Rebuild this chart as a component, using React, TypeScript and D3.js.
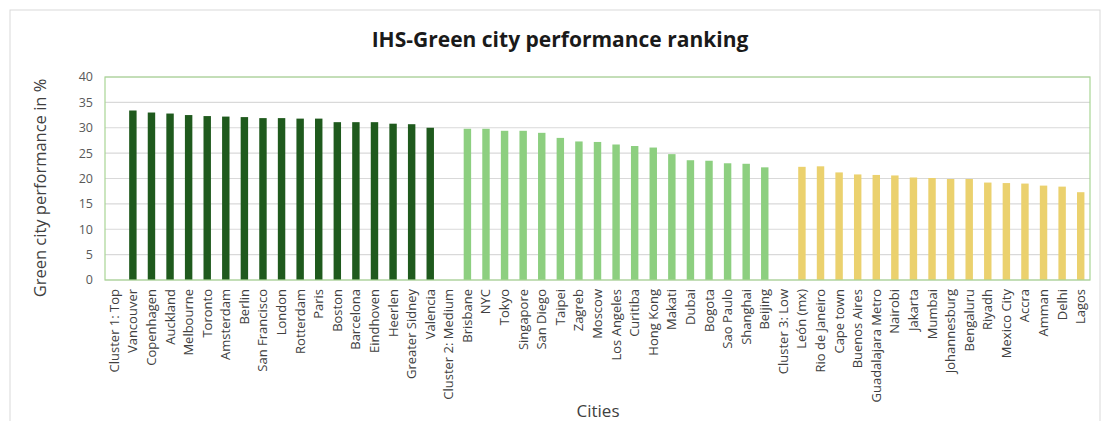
import React from "react";
import * as d3 from "d3";

const title = "IHS-Green city performance ranking";
const yAxisTitle = "Green city performance in %";
const xAxisTitle = "Cities";

const clusterLabels = ["Cluster 1: Top", "Cluster 2: Medium", "Cluster 3: Low"];
const clusterColors = ["#1f5a1d", "#8dcf80", "#ebd16e"];

const cluster1Cities = ["Vancouver", "Copenhagen", "Auckland", "Melbourne", "Toronto", "Amsterdam", "Berlin", "San Francisco", "London", "Rotterdam", "Paris", "Boston", "Barcelona", "Eindhoven", "Heerlen", "Greater Sidney", "Valencia"];
const cluster1Values = [33.4, 33.0, 32.8, 32.5, 32.3, 32.2, 32.1, 31.9, 31.9, 31.8, 31.8, 31.1, 31.1, 31.1, 30.8, 30.7, 30.0];

const cluster2Cities = ["Brisbane", "NYC", "Tokyo", "Singapore", "San Diego", "Taipei", "Zagreb", "Moscow", "Los Angeles", "Curitiba", "Hong Kong", "Makati", "Dubai", "Bogota", "Sao Paulo", "Shanghai", "Beijing"];
const cluster2Values = [29.8, 29.8, 29.4, 29.4, 29.0, 28.0, 27.3, 27.2, 26.7, 26.4, 26.1, 24.8, 23.6, 23.5, 23.0, 22.9, 22.2];

const cluster3Cities = ["León (mx)", "Rio de Janeiro", "Cape town", "Buenos Aires", "Guadalajara Metro", "Nairobi", "Jakarta", "Mumbai", "Johannesburg", "Bengaluru", "Riyadh", "Mexico City", "Accra", "Amman", "Delhi", "Lagos"];
const cluster3Values = [22.3, 22.4, 21.2, 20.8, 20.7, 20.6, 20.2, 20.1, 19.9, 19.9, 19.2, 19.1, 19.0, 18.6, 18.4, 17.3];

const yTicks = [0, 5, 10, 15, 20, 25, 30, 35, 40];

type Row = { label: string; value: number | null; cluster: number };

const clusters = [
  { cities: cluster1Cities, values: cluster1Values },
  { cities: cluster2Cities, values: cluster2Values },
  { cities: cluster3Cities, values: cluster3Values },
];

const rows: Row[] = [];
clusters.forEach((c, ci) => {
  rows.push({ label: clusterLabels[ci], value: null, cluster: ci });
  c.cities.forEach((city, i) => rows.push({ label: city, value: c.values[i], cluster: ci }));
});

const W = 1103;
const H = 421;
const plotLeft = 105;
const plotRight = 1090;
const plotTop = 77;
const plotBottom = 280;
const font = "'Open Sans', 'Noto Sans', sans-serif";

export default function App() {
  const x = d3
    .scaleBand<string>()
    .domain(rows.map((r) => r.label))
    .range([plotLeft, plotRight])
    .paddingInner(0.6)
    .paddingOuter(0.3);
  const y = d3.scaleLinear().domain([0, 40]).range([plotBottom, plotTop]);

  return (
    <svg
      width={W}
      height={H}
      style={{ position: "absolute", left: 0, top: 0, background: "#fff" }}
      fontFamily={font}
    >
      <rect x={10} y={10} width={1090} height={H + 5} fill="#fff" stroke="#d9d9d9" strokeWidth={1} />
      <text x={560} y={47} textAnchor="middle" fontSize={21} fontWeight="bold" fill="#1a1a1a">
        {title}
      </text>
      {yTicks.map((t) => (
        <g key={t}>
          <line x1={plotLeft} x2={plotRight} y1={y(t)} y2={y(t)} stroke="#d9d9d9" strokeWidth={1.2} />
          <text x={93} y={y(t)} dy="0.35em" textAnchor="end" fontSize={12.5} fill="#595959">
            {t}
          </text>
        </g>
      ))}
      {rows
        .filter((r) => r.value !== null)
        .map((r) => (
          <rect
            key={r.label}
            x={x(r.label)}
            y={y(r.value as number)}
            width={x.bandwidth()}
            height={y(0) - y(r.value as number)}
            fill={clusterColors[r.cluster]}
          />
        ))}
      <rect
        x={plotLeft}
        y={plotTop}
        width={plotRight - plotLeft}
        height={plotBottom - plotTop}
        fill="none"
        stroke="#a9d595"
        strokeWidth={1.2}
      />
      {rows.map((r) => {
        const cx = (x(r.label) as number) + x.bandwidth() / 2;
        return (
          <text
            key={"l" + r.label}
            transform={`translate(${cx + 4.5},${plotBottom + 9}) rotate(-90)`}
            textAnchor="end"
            fontSize={13}
            fill="#404040"
          >
            {r.label}
          </text>
        );
      })}
      <text
        transform={`translate(46,188) rotate(-90)`}
        textAnchor="middle"
        fontSize={16.5}
        fill="#404040"
      >
        {yAxisTitle}
      </text>
      <text x={598} y={417} textAnchor="middle" fontSize={17} fill="#404040">
        {xAxisTitle}
      </text>
    </svg>
  );
}
